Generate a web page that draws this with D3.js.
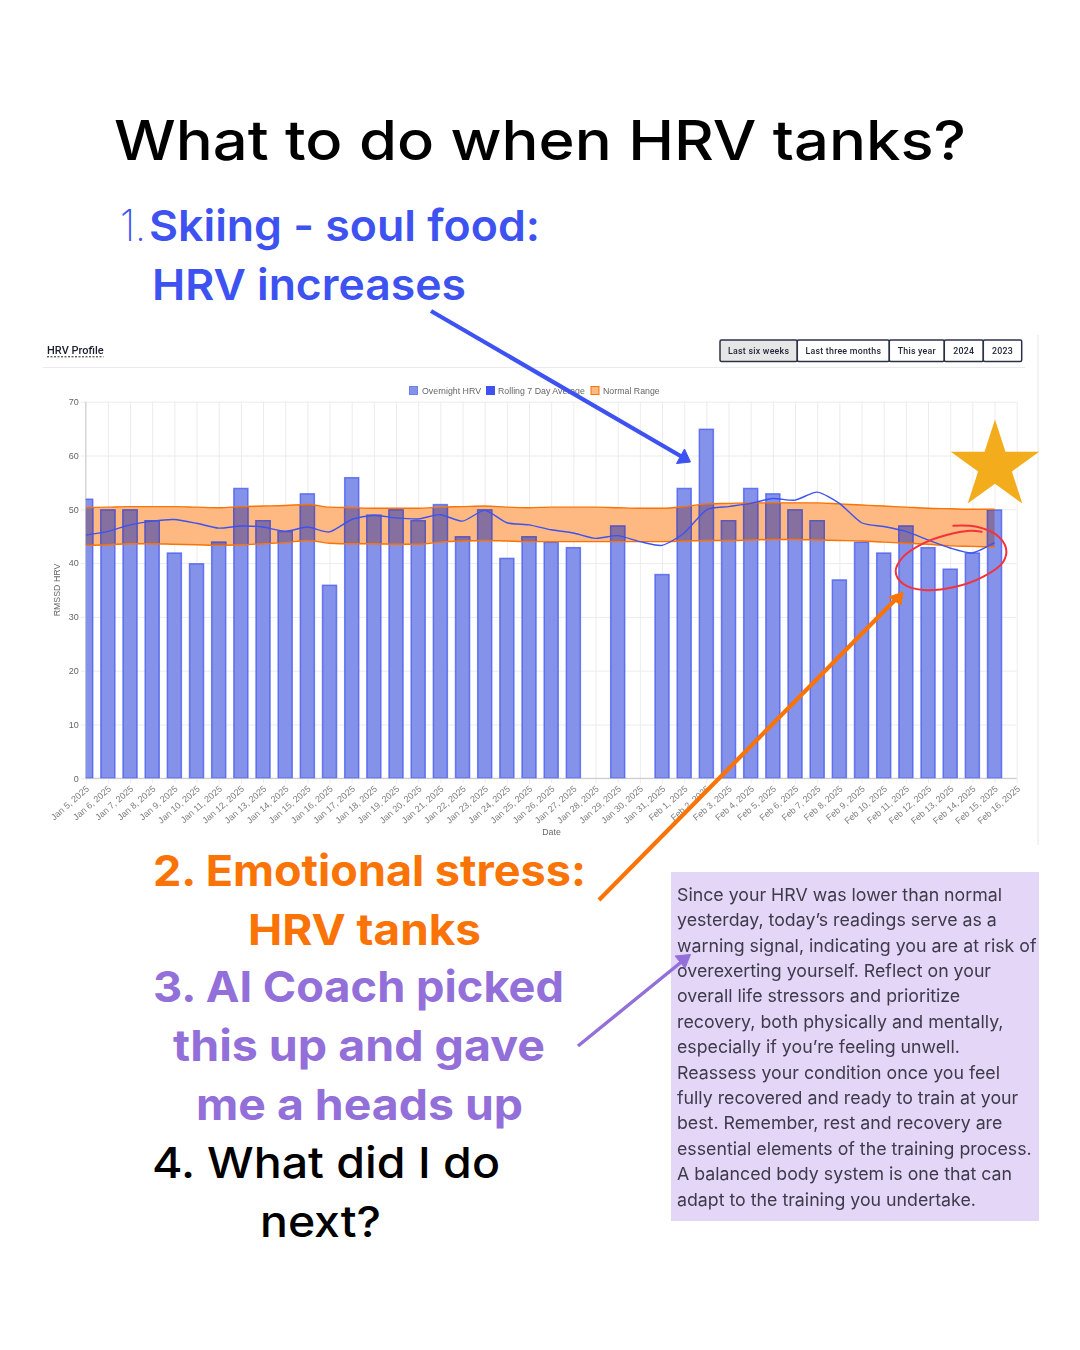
<!DOCTYPE html>
<html><head><meta charset="utf-8">
<script src="https://cdn.jsdelivr.net/npm/d3@7"></script>
<style>
html,body{margin:0;padding:0;background:#fff;}
svg{display:block;}
.chart text{font-family:"Liberation Sans",Arial,sans-serif;}
.chart{filter:blur(0.35px);}
</style></head><body>
<svg id="c" width="1080" height="1350" viewBox="0 0 1080 1350"></svg>
<script>
const dates = ["Jan 5, 2025","Jan 6, 2025","Jan 7, 2025","Jan 8, 2025","Jan 9, 2025","Jan 10, 2025","Jan 11, 2025","Jan 12, 2025","Jan 13, 2025","Jan 14, 2025","Jan 15, 2025","Jan 16, 2025","Jan 17, 2025","Jan 18, 2025","Jan 19, 2025","Jan 20, 2025","Jan 21, 2025","Jan 22, 2025","Jan 23, 2025","Jan 24, 2025","Jan 25, 2025","Jan 26, 2025","Jan 27, 2025","Jan 28, 2025","Jan 29, 2025","Jan 30, 2025","Jan 31, 2025","Feb 1, 2025","Feb 2, 2025","Feb 3, 2025","Feb 4, 2025","Feb 5, 2025","Feb 6, 2025","Feb 7, 2025","Feb 8, 2025","Feb 9, 2025","Feb 10, 2025","Feb 11, 2025","Feb 12, 2025","Feb 13, 2025","Feb 14, 2025","Feb 15, 2025","Feb 16, 2025"];
const overnightHRV = [52,50,50,48,42,40,44,54,48,46,53,36,56,49,50,48,51,45,50,41,45,44,43,null,47,null,38,54,65,48,54,53,50,48,37,44,42,47,43,39,42,50,null];
const rolling7Day = [45.2,45.9,47.1,47.8,48.1,47.4,46.5,46.9,46.7,45.9,46.7,45.8,48.1,48.9,48.4,48.2,49,47.8,49.8,47.5,47.1,46.2,45.6,44.6,45.1,44,43.3,45.6,49.9,50.5,51.1,52,51.7,53.2,51.1,47.5,46.8,45.9,44.3,42.8,41.9,43.8,null];
const normalHigh = [50.3,50.4,50.5,50.5,50.5,50.4,50.3,50.5,50.6,50.7,50.9,50.4,50.3,50.2,50.2,50.2,50.4,50.5,50.6,50.4,50.3,50.4,50.4,50.4,50.3,50.2,50.2,50.5,51,51.1,51.2,51.2,51.2,51.2,51,50.8,50.6,50.4,50.2,50.1,50,50,null];
const normalLow = [43.3,43.4,43.6,43.6,43.5,43.4,43.3,43.4,43.6,43.8,44.2,43.7,43.6,43.6,43.5,43.5,43.9,44.1,44.2,44.1,44,44,44,44,44,44,44,44.1,44.2,44.2,44.3,44.4,44.4,44.3,44.2,44.1,43.9,43.7,43.5,43.2,43.1,43,null];
const yTicks = [0,10,20,30,40,50,60,70];
const rangeButtons = ["Last six weeks","Last three months","This year","2024","2023"];
const legendLabels = ["Overnight HRV","Rolling 7 Day Average","Normal Range"];
const adviceLines = ["Since your HRV was lower than normal","yesterday, today\u2019s readings serve as a","warning signal, indicating you are at risk of","overexerting yourself. Reflect on your","overall life stressors and prioritize","recovery, both physically and mentally,","especially if you\u2019re feeling unwell.","Reassess your condition once you feel","fully recovered and ready to train at your","best. Remember, rest and recovery are","essential elements of the training process.","A balanced body system is one that can","adapt to the training you undertake."];

const BLUE="#3d52f0", ORANGE="#f97306", PURPLE="#936fd9";
const svg=d3.select("#c");
svg.append("rect").attr("width",1080).attr("height",1350).attr("fill","#fff");

function fit(t,x1,x2,base,size,weight,color){
  svg.append("text").attr("x",x1).attr("y",base).attr("textLength",x2-x1).attr("lengthAdjust","spacingAndGlyphs")
    .attr("font-family","Inter, sans-serif").attr("font-size",size).attr("font-weight",weight).attr("fill",color).text(t);
}
fit("What to do when HRV tanks?",114,966,160,55,500,"#000");
fit("1.",120,146,241,43,200,BLUE);
fit("Skiing - soul food:",149,540,241,43,600,BLUE);
fit("HRV increases",152,466,300,43,600,BLUE);
fit("2. Emotional stress:",153,586,886,43,700,ORANGE);
fit("HRV tanks",248,481,945,43,700,ORANGE);
fit("3. AI Coach picked",153,564,1002,43,700,PURPLE);
fit("this up and gave",173,545,1061,43,700,PURPLE);
fit("me a heads up",196,523,1120,43,700,PURPLE);
fit("4. What did I do",152,500,1178,43,500,"#000");
fit("next?",260,381,1237,43,500,"#000");

// ---- chart
const x=d3.scalePoint().domain(dates).range([85.7,1016.7]);
const y=d3.scaleLinear().domain([0,70]).range([778.3,401.7]);
const barW=15.4;
const g=svg.append("g").attr("class","chart");
g.append("rect").attr("x",1037).attr("y",335).attr("width",2).attr("height",510).attr("fill","#f2f2f2");
g.append("line").attr("x1",43).attr("x2",1025).attr("y1",367.5).attr("y2",367.5).attr("stroke","#e9e9f0");
g.append("text").attr("x",47).attr("y",354).attr("font-size",11).attr("font-weight",500).style("font-family","Roboto").attr("fill","#1b1f2e").text("HRV Profile");
g.append("line").attr("x1",47).attr("x2",103.5).attr("y1",356.8).attr("y2",356.8).attr("stroke","#222").attr("stroke-dasharray","2 1.5");

// range buttons
const btnEdges=[720,797.3,889.3,944.3,983.3,1021.7];
rangeButtons.forEach((b,i)=>{
  const bg=g.append("g");
  bg.append("rect").attr("x",btnEdges[i]).attr("y",340).attr("width",btnEdges[i+1]-btnEdges[i]).attr("height",21.5).attr("rx",1.5)
    .attr("fill",i===0?"#e6e6e6":"#fff").attr("stroke","#2b3147").attr("stroke-width",1.5);
  bg.append("text").attr("x",(btnEdges[i]+btnEdges[i+1])/2).attr("y",354).attr("text-anchor","middle")
    .attr("font-size",8.8).attr("font-weight",500).style("font-family","Roboto").attr("letter-spacing",0.25).attr("fill","#23283a").text(b);
});

// legend
const legendX=[[409.5,422],[486.5,498],[591,603]];
const legendFill=["#8592ea",BLUE,"#fdb981"], legendStroke=["#7080ea",BLUE,ORANGE];
legendLabels.forEach((l,i)=>{
  g.append("rect").attr("x",legendX[i][0]).attr("y",386.5).attr("width",8).attr("height",8)
    .attr("fill",legendFill[i]).attr("stroke",legendStroke[i]).attr("stroke-width",1);
  g.append("text").attr("x",legendX[i][1]).attr("y",394).attr("font-size",8.8).attr("fill","#666").text(l);
});

// grid + axes
const xAxis=d3.axisBottom(x).tickSize(-(778.3-401.7)).tickSizeOuter(0).tickPadding(0);
const yAxis=d3.axisLeft(y).tickValues(yTicks).tickSize(-(1016.7-85.7)).tickSizeOuter(0).tickPadding(7);
const gx=g.append("g").attr("transform","translate(0,778.3)").call(xAxis);
gx.select(".domain").remove();
gx.selectAll(".tick line").attr("stroke","#ececec").attr("y2",-(778.3-401.7)).attr("y1",5);
gx.selectAll(".tick text").attr("font-size",9).attr("fill","#808080").attr("text-anchor","end").attr("dy",0).attr("y",0)
  .attr("transform","translate(3.5,11.5) rotate(-41)");
const gy=g.append("g").attr("transform","translate(85.7,0)").call(yAxis);
gy.select(".domain").remove();
gy.selectAll(".tick line").attr("stroke","#ececec").attr("x1",-5);
gy.selectAll(".tick text").attr("font-size",9).attr("fill","#666");
g.append("line").attr("x1",85.7).attr("x2",85.7).attr("y1",401.7).attr("y2",778.3).attr("stroke","#d4d4d4").attr("stroke-width",1.2);
g.append("line").attr("x1",85.7).attr("x2",1016.7).attr("y1",778.3).attr("y2",778.3).attr("stroke","#cfcfcf").attr("stroke-width",1.2);
g.append("text").attr("transform","translate(60,590) rotate(-90)").attr("text-anchor","middle").attr("font-size",8.8).attr("fill","#666").text("RMSSD HRV");
g.append("text").attr("x",551.5).attr("y",835).attr("text-anchor","middle").attr("font-size",8.8).attr("fill","#666").text("Date");

const defs=svg.append("defs");
defs.append("clipPath").attr("id","plot").append("rect").attr("x",85.7).attr("y",401.7).attr("width",931).attr("height",376.6);
const plot=g.append("g").attr("clip-path","url(#plot)");

// normal range
const idx=dates.map((d,i)=>i).filter(i=>normalHigh[i]!=null);
const area=d3.area().curve(d3.curveMonotoneX).x(i=>x(dates[i])).y0(i=>y(normalLow[i])).y1(i=>y(normalHigh[i]));
plot.append("path").attr("d",area(idx)).attr("fill","#fdb981");
defs.append("clipPath").attr("id","band").append("path").attr("d",area(idx));

// bars
const barRows=dates.map((d,i)=>({d,v:overnightHRV[i]})).filter(r=>r.v!=null);
const bars=(sel,cls)=>sel.selectAll("rect."+cls).data(barRows).join("rect").attr("class",cls)
  .attr("x",r=>x(r.d)-barW/2+0.7).attr("width",barW-1.4)
  .attr("y",r=>y(r.v)+0.7).attr("height",r=>y(0)-y(r.v)-0.7);
bars(plot,"bar").attr("fill","#8592ea").attr("stroke","rgba(61,82,240,0.7)").attr("stroke-width",1.5);
// where a bar crosses the orange band the two tints mix to a muted purple
bars(plot.append("g").attr("clip-path","url(#band)"),"mix").attr("fill","#86709f").attr("stroke","#5f58b8").attr("stroke-width",1.5);

// range edges + rolling line
const edge=arr=>d3.line().curve(d3.curveMonotoneX).x(i=>x(dates[i])).y(i=>y(arr[i]));
plot.append("path").attr("d",edge(normalHigh)(idx)).attr("fill","none").attr("stroke",ORANGE).attr("stroke-width",1.4);
plot.append("path").attr("d",edge(normalLow)(idx)).attr("fill","none").attr("stroke",ORANGE).attr("stroke-width",1.4);
plot.append("path").attr("d",d3.line().curve(d3.curveCardinal.tension(0.35)).x(i=>x(dates[i])).y(i=>y(rolling7Day[i]))(idx))
  .attr("fill","none").attr("stroke",BLUE).attr("stroke-width",1.4);

// ---- advice box
svg.append("rect").attr("x",671).attr("y",872).attr("width",368).attr("height",349).attr("fill","#e3d6f6");
const lineScale=d3.scaleLinear().domain([0,adviceLines.length-1]).range([900.7,1205.7]);
svg.append("g").style("filter","blur(0.3px)").selectAll("text").data(adviceLines).join("text")
  .attr("x",677).attr("y",(d,i)=>lineScale(i)).attr("font-family","Inter, sans-serif").attr("font-size",17.75).attr("fill","#3e3a4b").text(d=>d);

// ---- annotations
const starSize=2427;
svg.append("path").attr("d",d3.symbol(d3.symbolStar,starSize)()).attr("transform","translate(995,466)").attr("fill","#f3ac1c");

function arrow(x1,y1,x2,y2,w,color,head){
  svg.append("line").attr("x1",x1).attr("y1",y1).attr("x2",x2).attr("y2",y2).attr("stroke",color).attr("stroke-width",w);
  svg.append("path").attr("d",d3.line()(head)+"Z").attr("fill",color).attr("stroke",color).attr("stroke-width",1).attr("stroke-linejoin","round");
}
arrow(431,311,684,458,4.2,BLUE,[[690.5,462],[676.5,463.5],[684.5,449]]);
arrow(599,900,897,598,4.2,ORANGE,[[903,592],[889,597],[901,605]]);
arrow(578,1046,685,959,3.4,PURPLE,[[690.5,954.5],[675,956],[685,968]]);

const ring=[[220,47],[290,50],[350,75],[378,115],[370,155],[310,200],[220,232],[130,240],[70,222],[47,185],[70,140],[130,100],[200,75],[270,62],[305,65]];
svg.append("path").attr("d",d3.line().curve(d3.curveCatmullRom.alpha(0.5))(ring))
  .attr("transform","translate(880,510) scale(0.3333)").attr("fill","none").attr("stroke","#f4323c").attr("stroke-width",6).attr("stroke-linecap","round");
</script>
</body></html>
